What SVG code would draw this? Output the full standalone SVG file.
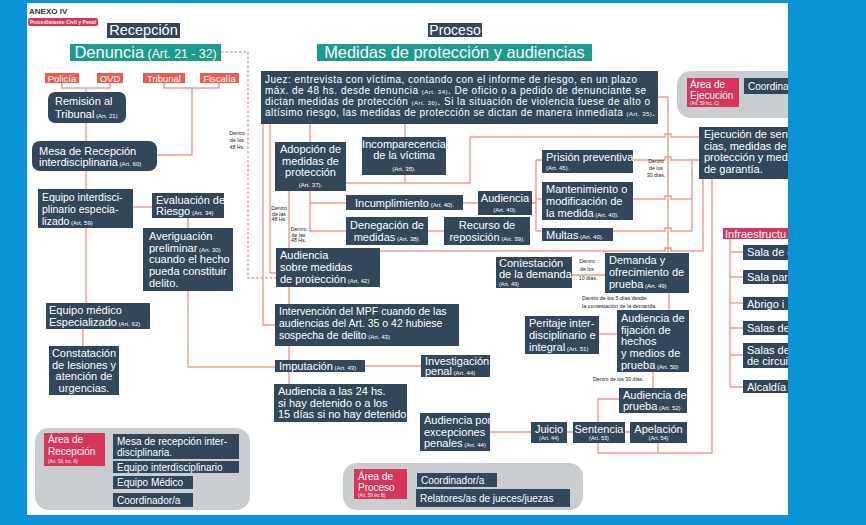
<svg xmlns="http://www.w3.org/2000/svg" width="866" height="525" viewBox="0 0 866 525">
<style>
.bg{fill:#0a94d5}
.n{fill:#33475a}
.tl{fill:#1c9d8c}
.ro{fill:#ec5b4c}
.cr{fill:#d7365a}
.gr{fill:#c9cdd0}
text{font-family:"Liberation Sans",Arial,sans-serif;font-size:11px}
.w{fill:#fff}
.m{text-anchor:middle}
.a{font-size:6px}
.tiny{font-size:5.2px;fill:#222}
.c{fill:none;stroke:#f29a90;stroke-width:1.4}
.d{stroke-dasharray:2.5 2}
</style>
<rect class="bg" x="0" y="0" width="866" height="525"/>
<rect x="27" y="3" width="761" height="512" fill="#fff"/>

<g id="header">
<text x="29" y="14" style="font-size:8px;font-weight:bold" fill="#333">ANEXO IV</text>
<rect class="cr" x="28" y="18" width="70" height="8" rx="2"/>
<text x="30" y="24.3" style="font-size:4.6px;font-weight:bold" fill="#fff" textLength="66">Procedimiento Civil y Penal</text>
</g>

<g id="connectors">
<path class="c" d="M62,83V88H110V83M86,88V92"/>
<path class="c" d="M164,83V88H219V83M192,88V155H157"/>
<path class="c" d="M86,123V141M86,171V303"/>
<path class="c" d="M133,207H152M188,218V228M188,291V367H275"/>
<path class="c" d="M83,329V346"/>
<path class="c d" d="M221,52H248V278H276"/>
<path class="c" d="M263,124V325H275M270,124V273H276"/>
<path class="c" d="M310,124V142M405,124V137"/>
<path class="c" d="M346,183H470V137H665V134H671V137H699M405,175V183"/>
<path class="c" d="M310,191V231H346M310,203H346M289,191V248"/>
<path class="c" d="M463,203H478M428,231H444"/>
<path class="c" d="M532,203H536M536,160V231M536,160H542M536,199H542M536,231H542"/>
<path class="c" d="M658,97H668V253"/>
<path class="c" d="M633,160H665V157H671V160H699M633,199H665V196H671V199H692M613,231H665V228H671V231H692V160"/>
<path class="c" d="M380,251H665V248H671V251H703V179"/>
<path class="c" d="M289,287V304M289,346V360M289,372V384M365,366H421"/>
<path class="c" d="M572,275H605M669,293V310M599,334H617M653,372V388"/>
<path class="c" d="M490,432H531M567,432H573M625,432H630"/>
<path class="c" d="M619,399H598V453H712V179M658,443V453"/>
<path class="c" d="M730,239V387M730,252H743M730,277H743M730,303H743M730,328H743M730,355H743M730,387H743"/>
<path class="c" d="M105,447H113M99,466V500H113M99,483H113"/>
<path class="c" d="M407,480H417M407,497H416"/>
<path class="c" d="M739,85H744"/>
</g>

<g id="recepcion-title">
<rect class="n" x="107" y="23" width="73" height="15"/>
<text class="w m" x="143.5" y="35" style="font-size:14.5px">Recepción</text>
</g>
<g id="denuncia">
<rect class="tl" x="70" y="44" width="151" height="17"/>
<text class="w m" x="145.5" y="58"><tspan font-size="16.5">Denuncia</tspan><tspan font-size="12.3"> (Art. 21 - 32)</tspan></text>
</g>
<g id="policia"><rect class="ro" x="45" y="73" width="34" height="10"/><text class="w m" x="62" y="81.5" style="font-size:9.5px">Policía</text></g>
<g id="ovd"><rect class="ro" x="97" y="73" width="26" height="10"/><text class="w m" x="110" y="81.5" style="font-size:9.5px">OVD</text></g>
<g id="tribunal"><rect class="ro" x="143" y="73" width="42" height="10"/><text class="w m" x="164" y="81.5" style="font-size:9.5px">Tribunal</text></g>
<g id="fiscalia"><rect class="ro" x="200" y="73" width="39" height="10"/><text class="w m" x="219.5" y="81.5" style="font-size:9.5px">Fiscalía</text></g>

<g id="remision">
<rect class="n" x="48" y="92" width="78" height="31" rx="7"/>
<text class="w" x="55" y="105">Remisión al</text>
<text class="w" x="55" y="118">Tribunal<tspan class="a"> (Art. 21)</tspan></text>
</g>
<g id="mesa">
<rect class="n" x="32" y="141" width="125" height="30" rx="8"/>
<text class="w" x="39" y="154.5">Mesa de Recepción</text>
<text class="w" x="39" y="166">interdisciplinaria<tspan class="a"> (Art. 60)</tspan></text>
</g>
<g id="equipo-interdisciplinario">
<rect class="n" x="38" y="189" width="95" height="39"/>
<text class="w" x="42" y="200.5" style="font-size:10.5px">Equipo interdisci-</text>
<text class="w" x="42" y="212.5" style="font-size:10.5px">plinario especia-</text>
<text class="w" x="42" y="224.5" style="font-size:10.5px">lizado<tspan class="a"> (Art. 59)</tspan></text>
</g>
<g id="evaluacion">
<rect class="n" x="152" y="193" width="72" height="25"/>
<text class="w" x="156" y="204">Evaluación de</text>
<text class="w" x="156" y="215">Riesgo<tspan class="a"> (Art. 34)</tspan></text>
</g>
<g id="averiguacion">
<rect class="n" x="143" y="228" width="90" height="63"/>
<text class="w" x="149" y="240">Averiguación</text>
<text class="w" x="149" y="251.5">preliminar<tspan class="a"> (Art. 30)</tspan></text>
<text class="w" x="149" y="263">cuando el hecho</text>
<text class="w" x="149" y="275">pueda constituir</text>
<text class="w" x="149" y="287">delito.</text>
</g>
<g id="equipo-medico">
<rect class="n" x="46" y="303" width="104" height="26"/>
<text class="w" x="49" y="314">Equipo médico</text>
<text class="w" x="49" y="326">Especializado<tspan class="a">  (Art. 62)</tspan></text>
</g>
<g id="constatacion">
<rect class="n" x="49" y="346" width="70" height="49"/>
<text class="w m" x="84" y="357">Constatación</text>
<text class="w m" x="84" y="368.7">de lesiones y</text>
<text class="w m" x="84" y="380.4">atención de</text>
<text class="w m" x="84" y="392">urgencias.</text>
</g>

<g id="area-recepcion">
<rect class="gr" x="35" y="428" width="215" height="82" rx="14"/>
<rect class="cr" x="44" y="433" width="61" height="33"/>
<text class="w" x="48" y="443" style="font-size:10px">Área de</text>
<text class="w" x="48" y="455" style="font-size:10px">Recepción</text>
<text class="w" x="48" y="462.5" style="font-size:4.5px">(Art. 59, inc. A)</text>
<rect class="n" x="113" y="434" width="126" height="25"/>
<text class="w" x="117" y="445" style="font-size:10px">Mesa de recepción inter-</text>
<text class="w" x="117" y="456" style="font-size:10px">disciplinaria.</text>
<rect class="n" x="113" y="461" width="126" height="12"/>
<text class="w" x="117" y="470.5" style="font-size:10px">Equipo interdisciplinario</text>
<rect class="n" x="113" y="476" width="80" height="13"/>
<text class="w" x="117" y="486" style="font-size:10px">Equipo Médico</text>
<rect class="n" x="113" y="493" width="80" height="14"/>
<text class="w" x="117" y="504" style="font-size:10px">Coordinador/a</text>
</g>

<g id="proceso-title">
<rect class="n" x="428" y="23" width="54" height="14"/>
<text class="w m" x="455" y="35" style="font-size:14px">Proceso</text>
</g>
<g id="medidas-title">
<rect class="tl" x="317" y="44" width="275" height="17"/>
<text class="w m" x="454.5" y="58" style="font-size:16.4px">Medidas de protección y audiencias</text>
</g>
<g id="juez">
<rect class="n" x="261" y="71" width="397" height="53"/>
<text class="w" x="265" y="83" style="font-size:10px" textLength="372">Juez: entrevista con víctima, contando con el informe de riesgo, en un plazo</text>
<text class="w" x="265" y="94" style="font-size:10px" textLength="381">máx. de 48 hs. desde denuncia <tspan class="a">(Art. 34)</tspan>. De oficio o a pedido de denunciante se</text>
<text class="w" x="265" y="105" style="font-size:10px" textLength="385">dictan medidas de protección <tspan class="a">(Art. 36)</tspan>. Si la situación de violencia fuese de alto o</text>
<text class="w" x="265" y="116" style="font-size:10px" textLength="390">altísimo riesgo, las medidas de protección se dictan de manera inmediata <tspan class="a">(Art. 35)</tspan>.</text>
</g>
<g id="dentro-48-a">
<text class="tiny m" x="237" y="135">Dentro</text>
<text class="tiny m" x="237" y="142">de los</text>
<text class="tiny m" x="237" y="149">48 Hs.</text>
</g>
<g id="adopcion">
<rect class="n" x="275" y="142" width="71" height="49"/>
<text class="w m" x="310.5" y="153">Adopción de</text>
<text class="w m" x="310.5" y="164.5">medidas de</text>
<text class="w m" x="310.5" y="176">protección</text>
<text class="w m a" x="310.5" y="187">(Art. 37).</text>
</g>
<g id="incomparecencia">
<rect class="n" x="362" y="137" width="84" height="38"/>
<text class="w m" x="404" y="148">Incomparecencia</text>
<text class="w m" x="404" y="159">de la víctima</text>
<text class="w m a" x="404" y="170.5">(Art. 35).</text>
</g>
<g id="incumplimiento">
<rect class="n" x="346" y="195" width="117" height="15"/>
<text class="w m" x="404.5" y="206.5">Incumplimiento<tspan class="a"> (Art. 40).</tspan></text>
</g>
<g id="audiencia-40">
<rect class="n" x="478" y="191" width="54" height="24"/>
<text class="w m" x="505" y="202">Audiencia</text>
<text class="w m a" x="505" y="211.5">(Art. 40).</text>
</g>
<g id="denegacion">
<rect class="n" x="346" y="217" width="82" height="28"/>
<text class="w m" x="387" y="228.5">Denegación de</text>
<text class="w m" x="387" y="240.5">medidas<tspan class="a"> (Art. 38).</tspan></text>
</g>
<g id="recurso">
<rect class="n" x="444" y="217" width="86" height="28"/>
<text class="w m" x="487" y="228.5">Recurso de</text>
<text class="w m" x="487" y="240.5">reposición<tspan class="a"> (Art. 39).</tspan></text>
</g>
<g id="dentro-48-b">
<text class="tiny m" x="279" y="210">Dentro</text>
<text class="tiny m" x="279" y="215.5">de las</text>
<text class="tiny m" x="279" y="221">48 Hs.</text>
</g>
<g id="dentro-48-c">
<text class="tiny m" x="298.5" y="231">Dentro</text>
<text class="tiny m" x="298.5" y="236.5">de las</text>
<text class="tiny m" x="298.5" y="242">48 Hs.</text>
</g>
<g id="audiencia-42">
<rect class="n" x="276" y="248" width="104" height="39"/>
<text class="w" x="280" y="259">Audiencia</text>
<text class="w" x="280" y="271">sobre medidas</text>
<text class="w" x="280" y="283">de protección<tspan class="a"> (Art. 42)</tspan></text>
</g>
<g id="prision">
<rect class="n" x="542" y="150" width="91" height="23"/>
<text class="w" x="546" y="160.5">Prisión preventiva</text>
<text class="w a" x="546" y="170">(Art. 45).</text>
</g>
<g id="mantenimiento">
<rect class="n" x="542" y="182" width="91" height="38"/>
<text class="w" x="546" y="193">Mantenimiento o</text>
<text class="w" x="546" y="205">modificación de</text>
<text class="w" x="546" y="217">la medida<tspan class="a"> (Art. 40).</tspan></text>
</g>
<g id="multas">
<rect class="n" x="542" y="228" width="71" height="13"/>
<text class="w" x="546" y="238.5">Multas<tspan class="a"> (Art. 40).</tspan></text>
</g>
<g id="dentro-30-a">
<text class="tiny m" x="656" y="163">Dentro</text>
<text class="tiny m" x="656" y="170">de los</text>
<text class="tiny m" x="656" y="177">30 días.</text>
</g>
<g id="intervencion">
<rect class="n" x="275" y="304" width="184" height="42"/>
<text class="w" x="279" y="315" style="font-size:10.5px">Intervención del MPF cuando de las</text>
<text class="w" x="279" y="327" style="font-size:10.5px">audiencias del Art. 35 o 42 hubiese</text>
<text class="w" x="279" y="339" style="font-size:10.5px">sospecha de delito<tspan class="a">  (Art. 43)</tspan></text>
</g>
<g id="imputacion">
<rect class="n" x="275" y="360" width="90" height="12"/>
<text class="w" x="279" y="370">Imputación<tspan class="a"> (Art. 43)</tspan></text>
</g>
<g id="investigacion">
<rect class="n" x="421" y="355" width="69" height="22"/>
<text class="w" x="425" y="364.5">Investigación</text>
<text class="w" x="425" y="375">penal<tspan class="a"> (Art. 44)</tspan></text>
</g>
<g id="audiencia-24">
<rect class="n" x="274" y="384" width="133" height="38"/>
<text class="w" x="278" y="395">Audiencia a las 24 hs.</text>
<text class="w" x="278" y="406.5">si hay detenido o a los</text>
<text class="w" x="278" y="418">15 días si no hay detenido.</text>
</g>
<g id="excepciones">
<rect class="n" x="420" y="413" width="70" height="38"/>
<text class="w" x="424" y="424">Audiencia por</text>
<text class="w" x="424" y="435.5">excepciones</text>
<text class="w" x="424" y="447">penales<tspan class="a"> (Art. 44)</tspan></text>
</g>
<g id="contestacion">
<rect class="n" x="496" y="257" width="76" height="31"/>
<text class="w" x="499" y="267">Contestación</text>
<text class="w" x="499" y="278">de la demanda</text>
<text class="w" x="499" y="285.5" style="font-size:5.5px">(Art. 49)</text>
</g>
<g id="dentro-10">
<text class="tiny m" x="587" y="263">Dentro</text>
<text class="tiny m" x="587" y="270.5">de los</text>
<text class="tiny m" x="588" y="280">10 días.</text>
</g>
<g id="demanda">
<rect class="n" x="605" y="253" width="84" height="40"/>
<text class="w" x="609" y="264">Demanda y</text>
<text class="w" x="609" y="276">ofrecimiento de</text>
<text class="w" x="609" y="288">prueba<tspan class="a"> (Art. 49)</tspan></text>
</g>
<g id="dentro-5">
<text class="tiny" x="582" y="300" style="font-size:5.4px">Dentro de los 5 días desde</text>
<text class="tiny" x="582" y="308" style="font-size:5.4px">la contestación de la demanda.</text>
</g>
<g id="fijacion">
<rect class="n" x="617" y="310" width="72" height="62"/>
<text class="w" x="621" y="322">Audiencia de</text>
<text class="w" x="621" y="333.5">fijación de</text>
<text class="w" x="621" y="345">hechos</text>
<text class="w" x="621" y="357">y medios de</text>
<text class="w" x="621" y="368.5">prueba<tspan class="a"> (Art. 50)</tspan></text>
</g>
<g id="peritaje">
<rect class="n" x="525" y="316" width="74" height="38"/>
<text class="w" x="529" y="327">Peritaje inter-</text>
<text class="w" x="529" y="338.5">disciplinario e</text>
<text class="w" x="529" y="350.5">integral<tspan class="a"> (Art. 51)</tspan></text>
</g>
<g id="dentro-30-b">
<text class="tiny" x="593" y="381">Dentro de los 30 días.</text>
</g>
<g id="audiencia-prueba">
<rect class="n" x="619" y="388" width="68" height="25"/>
<text class="w" x="623" y="399">Audiencia de</text>
<text class="w" x="623" y="410">prueba<tspan class="a"> (Art. 52)</tspan></text>
</g>
<g id="juicio">
<rect class="n" x="531" y="422" width="36" height="21"/>
<text class="w m" x="549" y="432.5">Juicio</text>
<text class="w m" x="549" y="440" style="font-size:5.5px">(Art. 44)</text>
</g>
<g id="sentencia">
<rect class="n" x="573" y="422" width="52" height="21"/>
<text class="w m" x="599" y="432.5">Sentencia</text>
<text class="w m" x="599" y="440" style="font-size:5.5px">(Art. 53)</text>
</g>
<g id="apelacion">
<rect class="n" x="630" y="422" width="57" height="21"/>
<text class="w m" x="658.5" y="432.5">Apelación</text>
<text class="w m" x="658.5" y="440" style="font-size:5.5px">(Art. 54)</text>
</g>
<g id="area-proceso">
<rect class="gr" x="343" y="463" width="240" height="47" rx="14"/>
<rect class="cr" x="354" y="469" width="53" height="30"/>
<text class="w" x="358" y="480" style="font-size:10px">Área de</text>
<text class="w" x="358" y="491" style="font-size:10px">Proceso</text>
<text class="w" x="358" y="497" style="font-size:4.5px">(Art. 59 inc B)</text>
<rect class="n" x="417" y="473" width="80" height="14"/>
<text class="w" x="421" y="484" style="font-size:10px">Coordinador/a</text>
<rect class="n" x="416" y="489" width="154" height="18"/>
<text class="w" x="420" y="501.5" style="font-size:10px">Relatores/as de jueces/juezas</text>
</g>

<g id="area-ejecucion">
<rect class="gr" x="677" y="71" width="150" height="47" rx="14"/>
<rect class="cr" x="687" y="78" width="52" height="29"/>
<text class="w" x="690" y="88" style="font-size:10px">Área de</text>
<text class="w" x="690" y="99" style="font-size:10px">Ejecución</text>
<text class="w" x="690" y="105" style="font-size:4.5px">(Art. 59 inc. C)</text>
<rect class="n" x="744" y="78" width="60" height="16"/>
<text class="w" x="748" y="89.5" style="font-size:10px">Coordina</text>
</g>
<g id="ejecucion">
<rect class="n" x="699" y="127" width="120" height="52"/>
<text class="w" x="704" y="138">Ejecución de sent</text>
<text class="w" x="704" y="149.5">cias, medidas de</text>
<text class="w" x="704" y="161">protección y med</text>
<text class="w" x="704" y="173">de garantía.</text>
</g>
<g id="infraestructura">
<rect class="cr" x="723" y="228" width="80" height="11"/>
<text class="w" x="725" y="237.5">Infraestructu</text>
</g>
<g id="sala-1"><rect class="n" x="743" y="245" width="60" height="15"/><text class="w" x="747" y="256">Sala de e</text></g>
<g id="sala-2"><rect class="n" x="743" y="270" width="60" height="14"/><text class="w" x="747" y="281">Sala para</text></g>
<g id="abrigo"><rect class="n" x="743" y="297" width="60" height="13"/><text class="w" x="747" y="307.5">Abrigo i</text></g>
<g id="salas-1"><rect class="n" x="743" y="321" width="60" height="14"/><text class="w" x="747" y="332">Salas de</text></g>
<g id="salas-2"><rect class="n" x="743" y="343" width="60" height="25"/><text class="w" x="747" y="354">Salas de</text><text class="w" x="747" y="365">de circuit</text></g>
<g id="alcaldia"><rect class="n" x="743" y="380" width="60" height="13"/><text class="w" x="747" y="390.5">Alcaldía</text></g>

<rect class="bg" x="788" y="0" width="78" height="525"/>
<rect class="bg" x="0" y="515" width="866" height="10"/>
</svg>
